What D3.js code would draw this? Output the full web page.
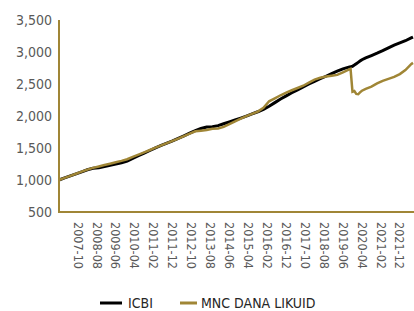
<!DOCTYPE html>
<html>
<head>
<meta charset="utf-8">
<script src="https://cdn.jsdelivr.net/npm/d3@7"></script>
<style>
  body { margin: 0; background: #fff; }
  svg text { font-family: "DejaVu Sans", sans-serif; font-stretch: condensed; fill: #595959; }
</style>
</head>
<body>
<div id="chart"></div>
<script>
// data, quarterly plus a few months around the 2019 drop
var dates = ["2006-12","2007-03","2007-06","2007-09","2007-12","2008-03","2008-06","2008-09","2008-12",
  "2009-03","2009-06","2009-09","2009-12","2010-03","2010-06","2010-09","2010-12","2011-03","2011-06",
  "2011-09","2011-12","2012-03","2012-06","2012-09","2012-12","2013-03","2013-06","2013-09","2013-12",
  "2014-03","2014-06","2014-09","2014-12","2015-03","2015-06","2015-09","2015-12","2016-03","2016-06",
  "2016-09","2016-12","2017-03","2017-06","2017-09","2017-12","2018-03","2018-06","2018-09","2018-12",
  "2019-03","2019-06","2019-09","2019-10","2019-11","2019-12","2020-01","2020-02","2020-03","2020-04",
  "2020-06","2020-09","2020-12","2021-03","2021-06","2021-09","2021-12","2022-03","2022-06","2022-07"];

var icbi = [1000,1032,1064,1096,1128,1160,1182,1190,1210,
  1230,1249,1269,1297,1338,1379,1420,1461,1503,1540,
  1576,1610,1649,1690,1732,1773,1805,1829,1832,1849,
  1879,1909,1938,1968,1999,2032,2066,2104,2153,2209,
  2266,2315,2363,2409,2456,2500,2542,2582,2621,2662,
  2702,2737,2763,2768,2777,2796,2817,2838,2858,2879,
  2908,2945,2982,3021,3065,3107,3142,3176,3221,3234];

var mnc = [1000,1033,1065,1098,1130,1163,1190,1211,1233,
  1255,1277,1299,1325,1362,1397,1433,1469,1505,1540,
  1576,1610,1647,1686,1724,1762,1770,1780,1802,1805,
  1830,1872,1915,1958,1999,2034,2069,2128,2230,2277,
  2324,2366,2402,2437,2473,2522,2569,2597,2617,2629,
  2642,2683,2723,2736,2380,2390,2345,2340,2370,2395,
  2425,2460,2510,2550,2580,2610,2655,2718,2810,2830];

var xTicks = ["2007-10","2008-08","2009-06","2010-04","2011-02","2011-12","2012-10","2013-08","2014-06",
  "2015-04","2016-02","2016-12","2017-10","2018-08","2019-06","2020-04","2021-02","2021-12"];
var yTicks = [500,1000,1500,2000,2500,3000,3500];

var seriesNames = ["ICBI", "MNC DANA LIKUID"];
var gold = "#a08636";

var width = 414, height = 311;
var parse = d3.timeParse("%Y-%m");

var svg = d3.select("#chart")
  .append("svg")
  .attr("width", width)
  .attr("height", height);

var x = d3.scaleTime()
  .domain([parse("2006-12"), parse("2022-07")])
  .range([59, 413]);

var y = d3.scaleLinear()
  .domain([500, 3500])
  .range([212, 20]);

// y labels
svg.append("g")
  .selectAll("text")
  .data(yTicks)
  .enter()
  .append("text")
    .attr("x", 52)
    .attr("y", function(d) { return y(d); })
    .attr("dy", "0.35em")
    .attr("text-anchor", "end")
    .style("font-size", "14px")
    .text(function(d) { return d3.format(",")(d); });

// x labels, turned to read downwards
svg.append("g")
  .selectAll("text")
  .data(xTicks)
  .enter()
  .append("text")
    .attr("transform", function(d) { return "translate(" + x(parse(d)) + ",222) rotate(90)"; })
    .attr("dy", "0.35em")
    .style("font-size", "12.5px")
    .text(function(d) { return d; });

// lines
var line = d3.line()
  .x(function(d, i) { return x(parse(dates[i])); })
  .y(function(d) { return y(d); });

svg.append("path")
  .attr("d", line(icbi))
  .attr("stroke", "#000")
  .attr("stroke-width", 3)
  .attr("fill", "none");

svg.append("path")
  .attr("d", line(mnc))
  .attr("stroke", gold)
  .attr("stroke-width", 2.5)
  .attr("fill", "none");

// axis lines
svg.append("line")
  .attr("x1", x.range()[0]).attr("x2", x.range()[0])
  .attr("y1", y(3500)).attr("y2", y(500) + 1)
  .attr("stroke", gold).attr("stroke-width", 2);
svg.append("line")
  .attr("x1", x.range()[0] - 1).attr("x2", width)
  .attr("y1", y(500)).attr("y2", y(500))
  .attr("stroke", gold).attr("stroke-width", 2);

// legend
var legend = [
  {name: seriesNames[0], color: "#000", x1: 100, x2: 122, tx: 128},
  {name: seriesNames[1], color: gold, x1: 180, x2: 197, tx: 201}
];
var lg = svg.append("g");
lg.selectAll("line")
  .data(legend)
  .enter()
  .append("line")
    .attr("x1", function(d) { return d.x1; })
    .attr("x2", function(d) { return d.x2; })
    .attr("y1", 303).attr("y2", 303)
    .attr("stroke", function(d) { return d.color; })
    .attr("stroke-width", 3);
lg.selectAll("text")
  .data(legend)
  .enter()
  .append("text")
    .attr("x", function(d) { return d.tx; })
    .attr("y", 303)
    .attr("dy", "0.35em")
    .style("font-size", "14px")
    .style("fill", "#262626")
    .text(function(d) { return d.name; });
</script>
</body>
</html>
